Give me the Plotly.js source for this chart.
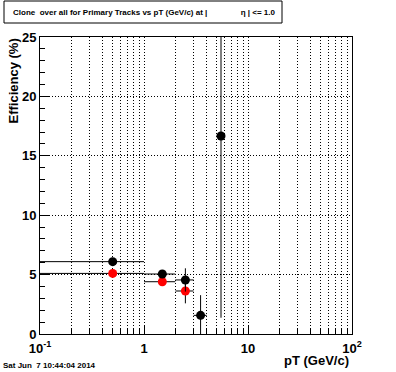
<!DOCTYPE html>
<html>
<head>
<meta charset="utf-8">
<script src="https://cdn.plot.ly/plotly-3.0.1.min.js"></script>
<style>html,body{margin:0;padding:0;background:#fff;}#chart{width:396px;height:372px;}</style>
</head>
<body>
<div id="chart"></div>
<script>
// bin centres (GeV/c)
const ptAll = [0.5, 1.5, 2.5, 3.5, 5.5];
const binLowAll = [0, 1, 2, 3, 5];
const binHighAll = [1, 2, 3, 4, 6];
const effAll = [6.09, 5.05, 4.55, 1.57, 16.67];
const errAll = [0.3, 0.3, 0.98, 1.7, 15.3];

const ptPrim = [0.5, 1.5, 2.5];
const binLowPrim = [0, 1, 2];
const binHighPrim = [1, 2, 3];
const effPrim = [5.1, 4.4, 3.62];
const errPrim = [0.3, 0.3, 1.04];

const xTickVals = [0.1, 1, 10, 100];
const xTickText = ['10<sup>-1</sup>', '1', '10', '10<sup>2</sup>'];

const FONT = 'Liberation Sans, Arial, sans-serif';
const DOT = '1px,2px';

function lowErr(x, lo) { return x.map((v, i) => v - Math.max(lo[i], 0.02)); }
function highErr(x, hi) { return x.map((v, i) => hi[i] - v); }

const traces = [
  {
    x: ptPrim, y: effPrim, type: 'scatter', mode: 'markers',
    marker: {color: '#ff0000', size: 9},
    error_x: {type: 'data', symmetric: false, array: highErr(ptPrim, binHighPrim), arrayminus: lowErr(ptPrim, binLowPrim), color: '#000', thickness: 1, width: 0},
    error_y: {type: 'data', array: errPrim, color: '#000', thickness: 1, width: 0},
    showlegend: false, cliponaxis: true
  },
  {
    x: ptAll, y: effAll, type: 'scatter', mode: 'markers',
    marker: {color: '#000000', size: 9},
    error_x: {type: 'data', symmetric: false, array: highErr(ptAll, binHighAll), arrayminus: lowErr(ptAll, binLowAll), color: '#000', thickness: 1, width: 0},
    error_y: {type: 'data', array: errAll, color: '#000', thickness: 1, width: 0},
    showlegend: false, cliponaxis: true
  }
];

const layout = {
  width: 396, height: 372,
  margin: {l: 40, r: 44, t: 37, b: 38, pad: 0},
  paper_bgcolor: '#fff', plot_bgcolor: '#fff',
  font: {family: FONT, color: '#000', size: 13},
  title: {
    text: 'Clone  over all for Primary Tracks vs pT (GeV/c) at |' + '\u00a0'.repeat(15) + 'η | <= 1.0',
    font: {family: FONT, size: 8, weight: 'bold', color: '#000'},
    x: 13 / 396, xanchor: 'left', xref: 'container',
    y: 1 - 12 / 372, yanchor: 'middle', yref: 'container'
  },
  xaxis: {
    type: 'log', range: [-1, 2],
    tickmode: 'array', tickvals: xTickVals, ticktext: xTickText,
    ticks: 'inside', ticklen: 9, tickwidth: 1, tickcolor: '#000',
    ticklabelstandoff: 2,
    showgrid: true, gridcolor: '#000', gridwidth: 1, griddash: DOT,
    minor: {dtick: 'D1', ticks: 'inside', ticklen: 5, tickwidth: 1, tickcolor: '#000', showgrid: true, gridcolor: '#000', gridwidth: 1, griddash: DOT},
    showline: true, linecolor: '#000', linewidth: 1, mirror: true,
    zeroline: false,
    tickfont: {family: FONT, size: 13, weight: 'bold'},
    title: {text: ''}
  },
  yaxis: {
    range: [0, 25], tickmode: 'linear', tick0: 0, dtick: 5,
    ticks: 'inside', ticklen: 9, tickwidth: 1, tickcolor: '#000',
    showgrid: true, gridcolor: '#000', gridwidth: 1, griddash: DOT,
    minor: {dtick: 1, ticks: 'inside', ticklen: 5, tickwidth: 1, tickcolor: '#000', showgrid: false},
    showline: true, linecolor: '#000', linewidth: 1, mirror: true,
    zeroline: false,
    tickfont: {family: FONT, size: 13, weight: 'bold'},
    title: {text: ''}
  },
  shapes: [
    {type: 'rect', xref: 'paper', yref: 'paper',
     x0: -36 / 312, x1: 242 / 312, y0: (297 + 37 - 23) / 297, y1: (297 + 37 - 1) / 297,
     line: {color: '#000', width: 1}, fillcolor: 'rgba(0,0,0,0)', layer: 'above'}
  ],
  annotations: [
    {text: 'Efficiency (%)', xref: 'paper', yref: 'paper', x: -27 / 312, y: 1, xanchor: 'center', yanchor: 'top',
     textangle: -90, showarrow: false, font: {family: FONT, size: 13, weight: 'bold'}},
    {text: 'pT (GeV/c)', xref: 'paper', yref: 'paper', x: 1 - 1 / 312, y: -17 / 297, xanchor: 'right', yanchor: 'top',
     showarrow: false, font: {family: FONT, size: 13, weight: 'bold'}},
    {text: 'Sat Jun  7 10:44:04 2014', xref: 'paper', yref: 'paper', x: -39 / 312, y: -25 / 297, xanchor: 'left', yanchor: 'top',
     showarrow: false, font: {family: FONT, size: 8, weight: 'bold'}}
  ]
};

Plotly.newPlot('chart', traces, layout, {staticPlot: true, displayModeBar: false});
</script>
</body>
</html>
